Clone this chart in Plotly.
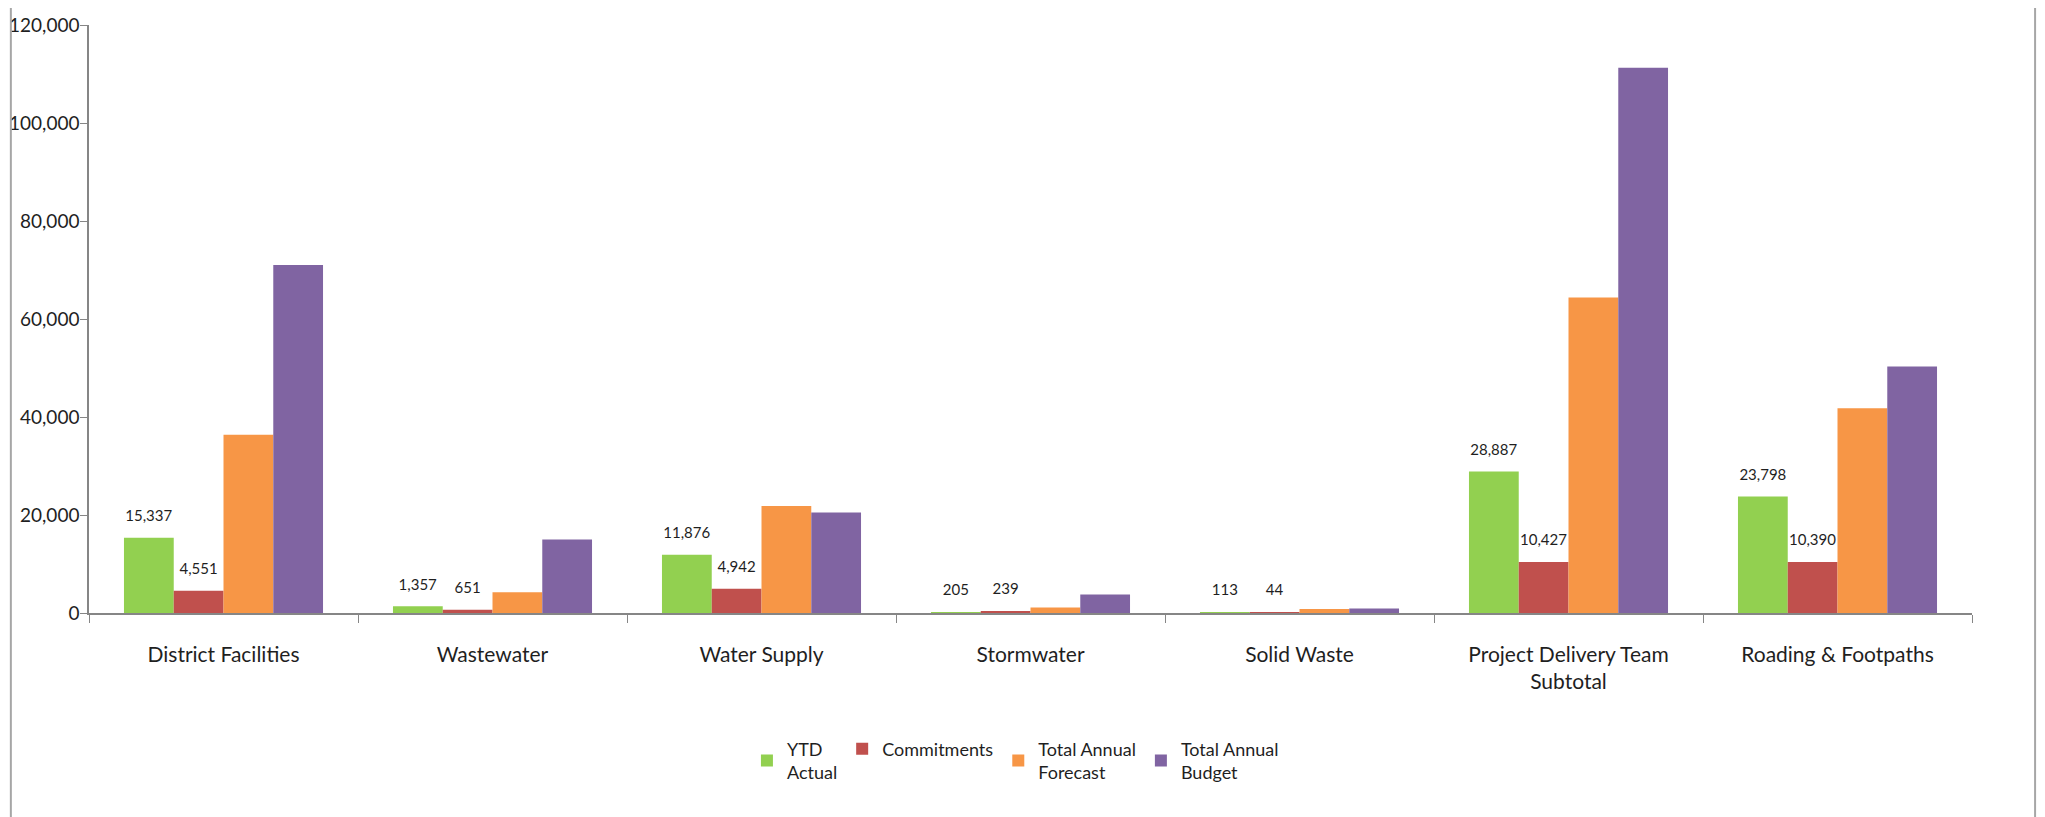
import plotly.graph_objects as go

# categories and series
categories = ["District Facilities", "Wastewater", "Water Supply", "Stormwater",
              "Solid Waste", "Project Delivery Team<br>Subtotal", "Roading & Footpaths"]
ytd_actual = [15337, 1357, 11876, 205, 113, 28887, 23798]
commitments = [4551, 651, 4942, 239, 44, 10427, 10390]
annual_forecast = [36400, 4250, 21850, 1100, 800, 64400, 41800]
annual_budget = [71000, 15000, 20500, 3800, 900, 111300, 50300]

font_family = "Lato, Open Sans, sans-serif"
text_col = "#1f1f1f"
# small blank second line lifts the value label a little off the bar top
label_tpl = "<span style='font-size:15px'>%{y:,}</span><br> "

fig = go.Figure()
fig.add_trace(go.Bar(x=categories, y=ytd_actual, name="YTD<br>Actual",
                     marker_color="#92D050", texttemplate=label_tpl,
                     textposition="outside", constraintext="none", cliponaxis=False))
fig.add_trace(go.Bar(x=categories, y=commitments, name="Commitments",
                     marker_color="#C0504D", texttemplate=label_tpl,
                     textposition="outside", constraintext="none", cliponaxis=False))
fig.add_trace(go.Bar(x=categories, y=annual_forecast, name="Total Annual<br>Forecast",
                     marker_color="#F79646"))
fig.add_trace(go.Bar(x=categories, y=annual_budget, name="Total Annual<br>Budget",
                     marker_color="#8064A2"))

fig.update_traces(marker_line_width=0, textfont=dict(size=9, color=text_col, family=font_family))

fig.update_layout(
    width=2045, height=817,
    margin=dict(l=81, r=81, t=17, b=212, autoexpand=False),
    paper_bgcolor="white", plot_bgcolor="white",
    barmode="group", bargap=0.26, bargroupgap=0,
    font=dict(family=font_family, color=text_col),
    showlegend=True,
    legend=dict(orientation="h", x=0.492, xanchor="center", y=-0.2, yanchor="top",
                font=dict(size=18, family=font_family, color=text_col),
                itemwidth=30, tracegroupgap=0, traceorder="normal"),
    shapes=[
        dict(type="line", xref="paper", yref="paper", x0=-0.0415, x1=-0.0415, y0=-1, y1=2,
             line=dict(color="#a6a6a6", width=2)),
        dict(type="line", xref="paper", yref="paper", x0=1.0335, x1=1.0335, y0=-1, y1=2,
             line=dict(color="#a6a6a6", width=2)),
    ],
)
fig.update_yaxes(range=[0, 120000], dtick=20000, tickformat=",", showgrid=False,
                 showline=True, linecolor="#868686", linewidth=1.5,
                 ticks="outside", ticklen=7, tickcolor="#868686", automargin=False,
                 ticklabelstandoff=-3, tickfont=dict(size=19), zeroline=False)
fig.update_xaxes(showline=True, linecolor="#868686", linewidth=1.5, automargin=False,
                 ticks="outside", ticklen=8, tickcolor="#868686", tickson="boundaries",
                 ticklabelstandoff=22, tickfont=dict(size=21))

fig.write_html("out.html")
